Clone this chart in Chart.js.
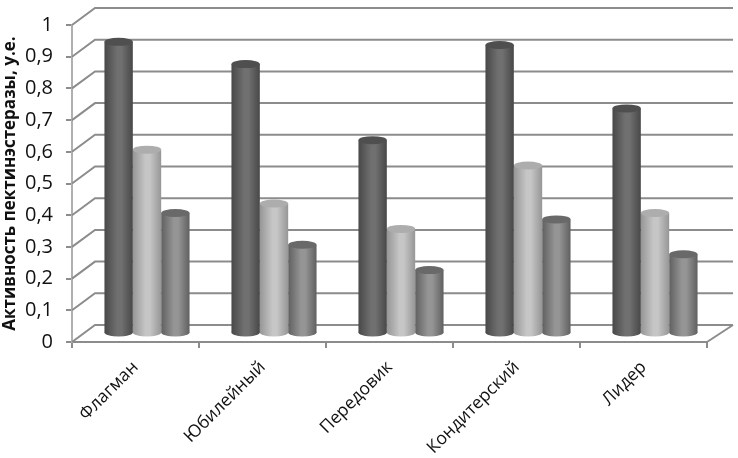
<!DOCTYPE html>
<html><head><meta charset="utf-8">
<style>html,body{margin:0;padding:0;background:#fff}#w{width:738px;height:458px}</style>
<script src="https://cdn.jsdelivr.net/npm/chart.js@4"></script></head>
<body><div id="w"><canvas id="c"></canvas></div>
<script>
const categories = ["Флагман","Юбилейный","Передовик","Кондитерский","Лидер"];
const seriesA = [0.92,0.85,0.61,0.91,0.71];
const seriesB = [0.58,0.41,0.33,0.53,0.38];
const seriesC = [0.38,0.28,0.20,0.36,0.25];
const yTitle = "Активность пектинэстеразы, у.е.";
const FONT = '"Open Sans"';
const LINE = '#8c8c8c';
const DEPTH_X = 23, DEPTH_Y = 17;
const BAR_DX = 11.5, BAR_DY = 8.5;
const CAT_PCT = 0.67;
const SHADES = [
  {edge:'#484848', mid:'#707070', cap:'#4f4f4f'},
  {edge:'#969696', mid:'#c6c6c6', cap:'#adadad'},
  {edge:'#606060', mid:'#959595', cap:'#696969'}
];
function barGeom(chart, dsIdx, i){
  const x = chart.scales.x;
  if (!x) return {cx:NaN, w:NaN};
  const step = x.width / categories.length;
  const w = step * CAT_PCT / 3;
  const cx = x.getPixelForValue(i) + (dsIdx - 1) * w;
  return {cx, w};
}
function fillFor(ctx){
  const s = SHADES[ctx.datasetIndex||0];
  if (ctx.dataIndex === undefined) return s.mid;
  const g = barGeom(ctx.chart, ctx.datasetIndex, ctx.dataIndex);
  if (!Number.isFinite(g.cx) || !Number.isFinite(g.w)) return s.mid;
  const lg = ctx.chart.ctx.createLinearGradient(g.cx - g.w/2, 0, g.cx + g.w/2, 0);
  lg.addColorStop(0, s.edge); lg.addColorStop(0.45, s.mid);
  lg.addColorStop(0.6, s.mid); lg.addColorStop(1, s.edge);
  return lg;
}
const walls = {
  id:'walls',
  beforeDatasetsDraw(chart){
    const {ctx, scales:{x,y}} = chart;
    ctx.save();
    ctx.strokeStyle = LINE; ctx.lineWidth = 2;
    y.ticks.forEach(t=>{
      const py = y.getPixelForValue(t.value);
      ctx.beginPath();
      ctx.moveTo(x.left, py);
      ctx.lineTo(x.left + DEPTH_X, py - DEPTH_Y);
      ctx.lineTo(x.right + 26, py - DEPTH_Y);
      ctx.stroke();
    });
    const b = y.getPixelForValue(0);
    ctx.beginPath();
    ctx.moveTo(x.right + 26, b - DEPTH_Y);
    ctx.lineTo(x.right, b);
    ctx.stroke();
    ctx.restore();
  },
  beforeDatasetDraw(chart, args){
    const ctx = chart.ctx;
    ctx.save();
    ctx.translate(BAR_DX, -BAR_DY);
    const meta = args.meta, i0 = args.index;
    meta.data.forEach((el,i)=>{
      const g = barGeom(chart, i0, i);
      ctx.beginPath();
      ctx.ellipse(g.cx, el.base, g.w/2, 4, 0, 0, Math.PI*2);
      ctx.fillStyle = fillFor({chart, datasetIndex:i0, dataIndex:i});
      ctx.fill();
    });
  },
  afterDatasetDraw(chart, args){
    const ctx = chart.ctx;
    const i0 = args.index;
    args.meta.data.forEach((el,i)=>{
      const g = barGeom(chart, i0, i);
      ctx.beginPath();
      ctx.ellipse(g.cx, el.y, g.w/2, 4, 0, 0, Math.PI*2);
      ctx.fillStyle = SHADES[i0].cap;
      ctx.fill();
    });
    ctx.restore();
  }
};
const barStyle = {backgroundColor:fillFor,borderWidth:0,barPercentage:1,categoryPercentage:CAT_PCT,clip:false};
new Chart(document.getElementById('c'),{
  type:'bar',
  data:{labels:categories,datasets:[
    {label:'A',data:seriesA,...barStyle},{label:'B',data:seriesB,...barStyle},{label:'C',data:seriesC,...barStyle}
  ]},
  plugins:[walls],
  options:{
    responsive:true,maintainAspectRatio:false,animation:false,
    layout:{padding:{top:24,right:31,left:0,bottom:0}},
    plugins:{legend:{display:false},tooltip:{enabled:false},colors:{enabled:false}},
    scales:{
      x:{
        afterFit(s){s.height=116},
        grid:{drawOnChartArea:false,color:LINE,lineWidth:2,tickLength:6,offset:true},
        border:{color:LINE,width:2},
        ticks:{color:'#111',font:{family:FONT,size:17.5},minRotation:45,maxRotation:45,padding:9}
      },
      y:{
        min:0,max:1,
        afterFit(s){s.width=72},
        grid:{drawOnChartArea:false,color:LINE,lineWidth:2,tickLength:6},
        border:{color:'#b0b0b0',width:2},
        ticks:{stepSize:0.1,color:'#111',font:{family:FONT,size:20},padding:13,
          callback:v=>String(Math.round(v*10)/10).replace('.',',')},
        title:{display:true,text:yTitle,color:'#111',font:{family:FONT,size:17,weight:'bold'},padding:{top:0,bottom:0}}
      }
    }
  }
});
</script></body></html>
